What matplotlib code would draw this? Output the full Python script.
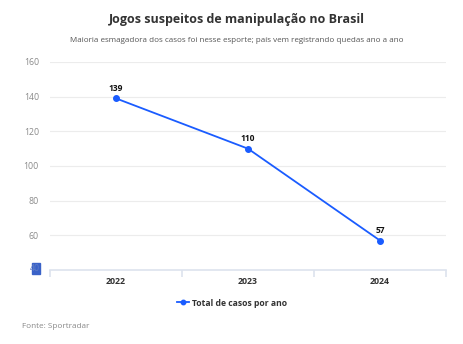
import matplotlib
matplotlib.use("Agg")
import matplotlib.pyplot as plt
from matplotlib.patches import Rectangle
import numpy as np

years = ["2022", "2023", "2024"]
casos = [139, 110, 57]
yticks = [40, 60, 80, 100, 120, 140, 160]

plt.rcParams["font.family"] = ["Open Sans", "DejaVu Sans"]
blue = "#1a5cff"

fig = plt.figure(figsize=(4.64, 3.44), dpi=100)
ax = fig.add_axes([50 / 464, 1 - 270 / 344, 396 / 464, 208 / 344])

x = np.arange(len(years))
ax.plot(x, casos, color=blue, lw=1.3, marker="o", ms=4, label="Total de casos por ano", zorder=3)
for xi, v in zip(x, casos):
    ax.annotate(str(v), (xi, v), xytext=(0, 4), textcoords="offset points",
                ha="center", va="bottom", fontsize=6, fontweight="bold", color="#111111")

ax.set_xlim(-0.5, 2.5)
ax.set_ylim(40, 160)
ax.set_yticks(yticks)
ax.set_yticklabels([str(t) for t in yticks], fontsize=6.3, color="#8a8a8a")
ax.set_xticks(x)
ax.set_xticklabels(years, fontsize=6.3, fontweight="bold", color="#333333")
ax.tick_params(axis="y", length=0, pad=8)
ax.tick_params(axis="x", length=0, pad=5)
# limites das faixas
ax.set_xticks([-0.5, 0.5, 1.5, 2.5], minor=True)
ax.tick_params(axis="x", which="minor", length=5, color="#dde3ee", width=1.2)
ax.yaxis.grid(True, color="#ececec", lw=0.8)
ax.set_axisbelow(True)
for s in ["top", "right", "left"]:
    ax.spines[s].set_visible(False)
ax.spines["bottom"].set_color("#dde3ee")
ax.spines["bottom"].set_linewidth(1.2)
ax.get_yticklabels()[0].set_visible(False)

# rótulo "40" selecionado
fig.patches.append(Rectangle((32 / 464, 1 - 274 / 344), 8 / 464, 11 / 344,
                             transform=fig.transFigure, color="#3a62c8", zorder=5))
fig.text(40 / 464, 1 - 268.5 / 344, "40", ha="right", va="center", fontsize=6.3,
         color="#5f7cc6", zorder=6)

fig.text(237 / 464, 1 - 20 / 344, "Jogos suspeitos de manipulação no Brasil", ha="center",
         va="center", fontsize=9.0, fontweight="bold", color="#333333")
fig.text(237 / 464, 1 - 41 / 344, "Maioria esmagadora dos casos foi nesse esporte; país vem registrando quedas ano a ano",
         ha="center", va="center", fontsize=5.75, color="#555555")

fig.legend(loc="center", bbox_to_anchor=(0.5, 1 - 303 / 344), frameon=False,
           prop={"size": 6.2, "weight": "bold"}, handlelength=1.4, handletextpad=0.4,
           labelcolor="#333333", markerscale=0.8)
fig.text(22 / 464, 1 - 326 / 344, "Fonte: Sportradar", ha="left", va="center",
         fontsize=5.9, color="#888888")

fig.savefig("out.png", dpi=100)
